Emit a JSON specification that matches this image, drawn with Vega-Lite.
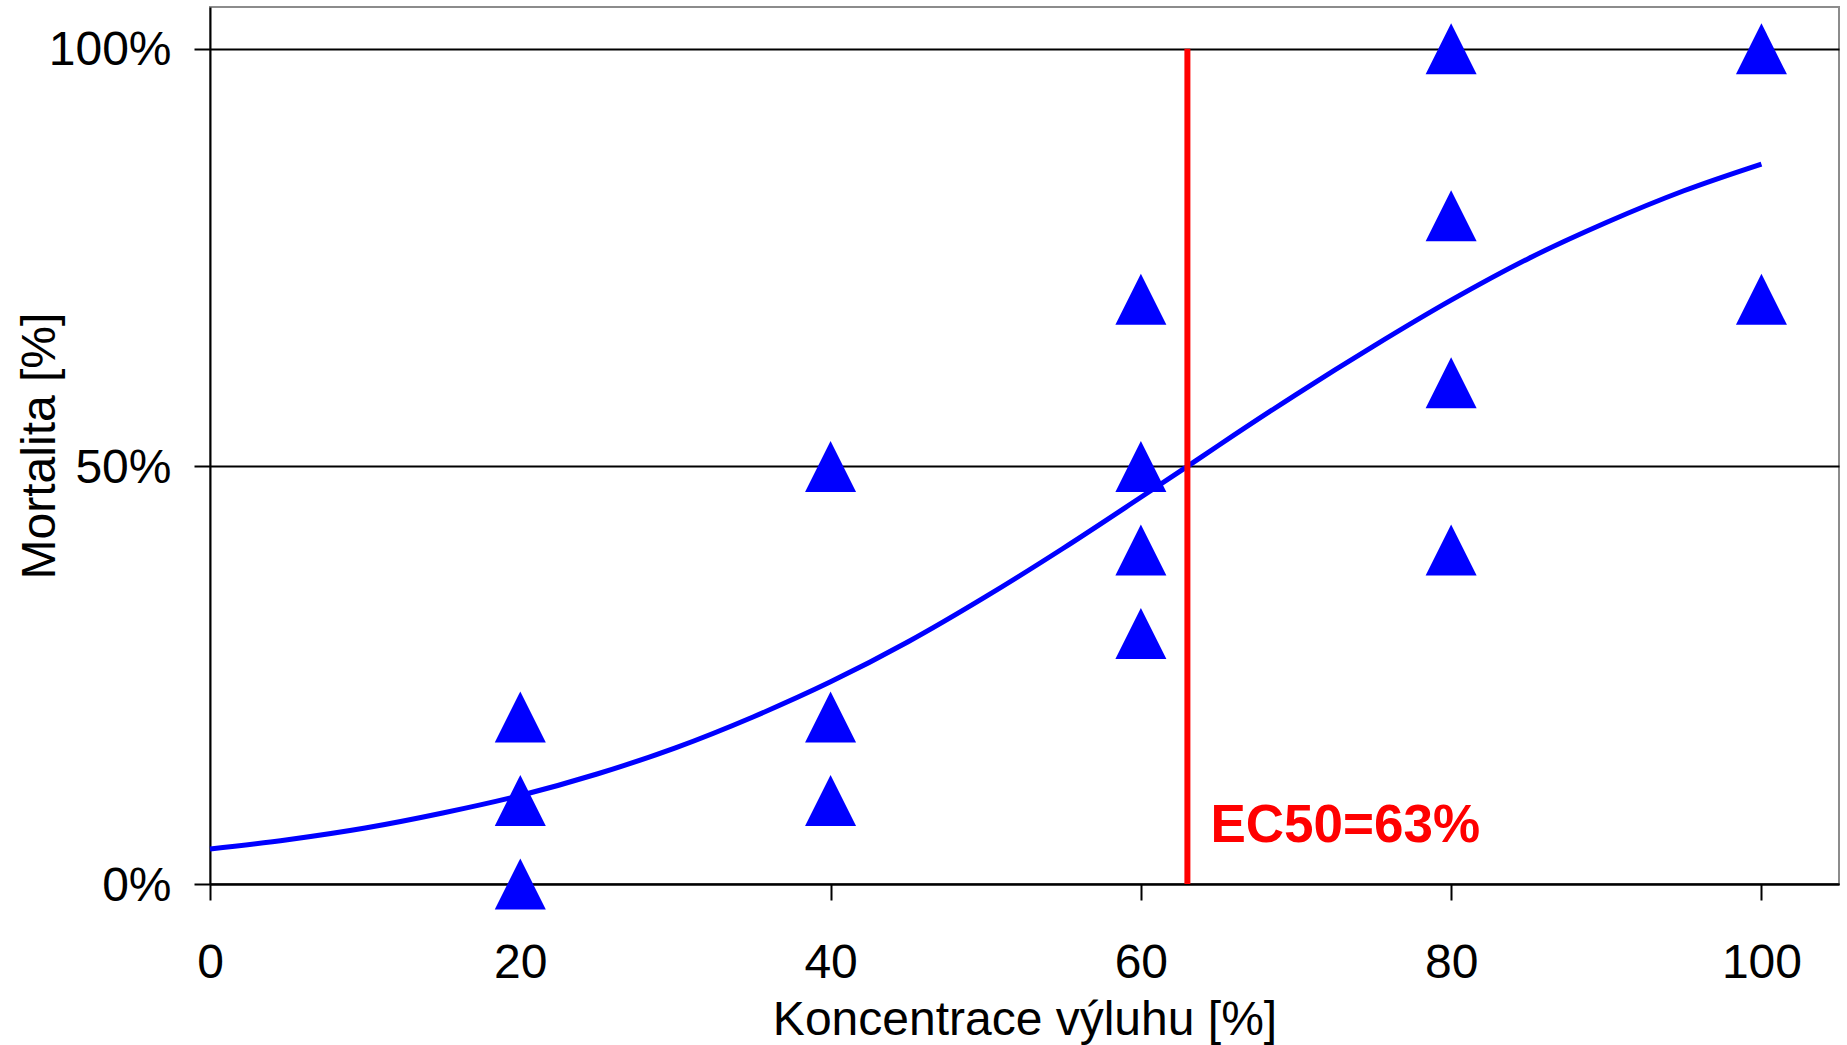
{
  "$schema": "https://vega.github.io/schema/vega-lite/v6.json",
  "width": 1629,
  "height": 877,
  "autosize": {"type": "none"},
  "padding": {"left": 210, "top": 7, "right": 8, "bottom": 161},
  "background": "white",
  "config": {
    "view": {"stroke": "#8c8c8c", "strokeWidth": 2},
    "font": "Liberation Sans"
  },
  "datasets": {
    "points": [
      {"konc": 20, "mort": 0.2},
      {"konc": 20, "mort": 0.1},
      {"konc": 20, "mort": 0.0},
      {"konc": 40, "mort": 0.5},
      {"konc": 40, "mort": 0.2},
      {"konc": 40, "mort": 0.1},
      {"konc": 60, "mort": 0.7},
      {"konc": 60, "mort": 0.5},
      {"konc": 60, "mort": 0.4},
      {"konc": 60, "mort": 0.3},
      {"konc": 80, "mort": 1.0},
      {"konc": 80, "mort": 0.8},
      {"konc": 80, "mort": 0.6},
      {"konc": 80, "mort": 0.4},
      {"konc": 100, "mort": 1.0},
      {"konc": 100, "mort": 0.7}
    ],
    "curve": [
      {"konc": 0, "mort": 0.042},
      {"konc": 5, "mort": 0.053},
      {"konc": 10, "mort": 0.067},
      {"konc": 15, "mort": 0.085},
      {"konc": 20, "mort": 0.106},
      {"konc": 25, "mort": 0.132},
      {"konc": 30, "mort": 0.163},
      {"konc": 35, "mort": 0.2},
      {"konc": 40, "mort": 0.242},
      {"konc": 45, "mort": 0.29},
      {"konc": 50, "mort": 0.344},
      {"konc": 55, "mort": 0.402},
      {"konc": 60, "mort": 0.463},
      {"konc": 63, "mort": 0.5},
      {"konc": 65, "mort": 0.525},
      {"konc": 70, "mort": 0.586},
      {"konc": 75, "mort": 0.644},
      {"konc": 80, "mort": 0.699},
      {"konc": 85, "mort": 0.749},
      {"konc": 90, "mort": 0.792},
      {"konc": 95, "mort": 0.83},
      {"konc": 100, "mort": 0.862}
    ],
    "ec50": [
      {"konc": 63, "low": 0, "high": 1, "labelY": 0.05, "label": "EC50=63%"}
    ]
  },
  "layer": [
    {
      "data": {"name": "curve"},
      "mark": {"type": "line", "color": "#0000ff", "strokeWidth": 5, "interpolate": "monotone"},
      "encoding": {
        "x": {
          "field": "konc",
          "type": "quantitative",
          "scale": {"domain": [0, 105], "nice": false, "zero": false},
          "axis": {
            "values": [0, 20, 40, 60, 80, 100],
            "grid": false,
            "tickSize": 16,
            "tickWidth": 2,
            "tickColor": "black",
            "domainColor": "black",
            "domainWidth": 2,
            "labelFont": "Liberation Sans",
            "labelFontSize": 48,
            "labelColor": "black",
            "labelPadding": 39,
            "labelFlush": false,
            "labelOverlap": false,
            "title": "Koncentrace výluhu [%]",
            "titleFont": "Liberation Sans",
            "titleFontSize": 48,
            "titleFontWeight": "normal",
            "titleColor": "black",
            "titleBaseline": "alphabetic",
            "titleY": 150
          }
        },
        "y": {
          "field": "mort",
          "type": "quantitative",
          "scale": {"domain": [0, 1.05], "nice": false, "zero": false},
          "axis": {
            "values": [0, 0.5, 1],
            "format": ".0%",
            "grid": true,
            "gridColor": "black",
            "gridWidth": 2,
            "tickSize": 16,
            "tickWidth": 2,
            "tickColor": "black",
            "domainColor": "black",
            "domainWidth": 2,
            "labelFont": "Liberation Sans",
            "labelFontSize": 48,
            "labelColor": "black",
            "labelPadding": 23,
            "labelOffset": 2,
            "labelFlush": false,
            "labelOverlap": false,
            "title": "Mortalita [%]",
            "titleFont": "Liberation Sans",
            "titleFontSize": 48,
            "titleFontWeight": "normal",
            "titleColor": "black",
            "titleBaseline": "alphabetic",
            "titleX": -156
          }
        }
      }
    },
    {
      "data": {"name": "points"},
      "mark": {"type": "point", "shape": "M0,-1L1,1L-1,1Z", "filled": true, "color": "#0000ff", "opacity": 1, "size": 2601, "strokeWidth": 0},
      "encoding": {
        "x": {"field": "konc", "type": "quantitative"},
        "y": {"field": "mort", "type": "quantitative"}
      }
    },
    {
      "data": {"name": "ec50"},
      "mark": {"type": "rule", "color": "#ff0000", "strokeWidth": 6},
      "encoding": {
        "x": {"field": "konc", "type": "quantitative"},
        "y": {"field": "low", "type": "quantitative"},
        "y2": {"field": "high"}
      }
    },
    {
      "data": {"name": "ec50"},
      "mark": {"type": "text", "color": "#ff0000", "font": "Liberation Sans", "fontSize": 53, "fontWeight": "bold", "align": "left", "baseline": "alphabetic", "dx": 23},
      "encoding": {
        "x": {"field": "konc", "type": "quantitative"},
        "y": {"field": "labelY", "type": "quantitative"},
        "text": {"field": "label"}
      }
    }
  ]
}
